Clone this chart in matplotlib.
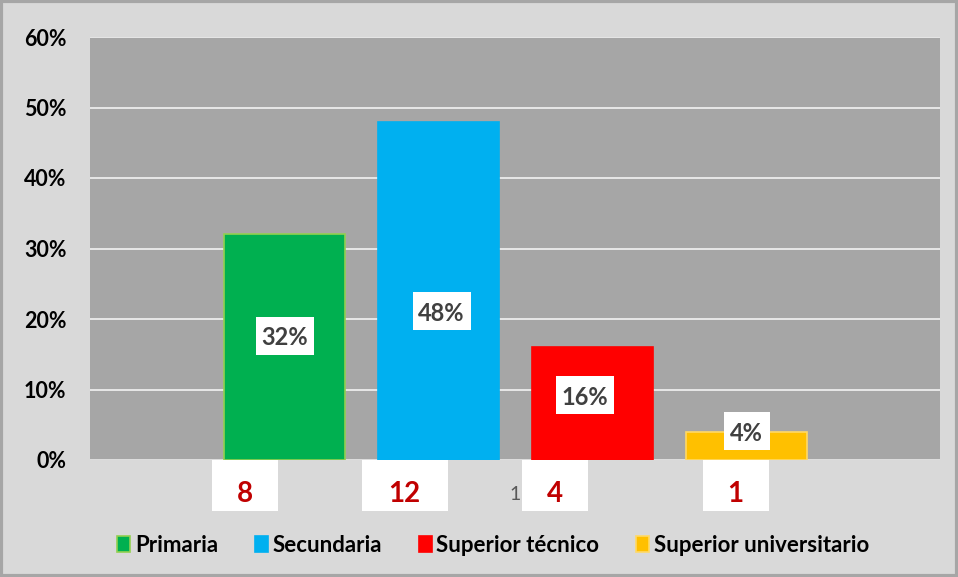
import matplotlib
matplotlib.use("Agg")
import matplotlib.pyplot as plt
from matplotlib.patches import Rectangle, Patch
from matplotlib.transforms import IdentityTransform

series = ["Primaria", "Secundaria", "Superior técnico", "Superior universitario"]
percents = [0.32, 0.48, 0.16, 0.04]
counts = [8, 12, 4, 1]
category = "1"
yticks = [0.0, 0.1, 0.2, 0.3, 0.4, 0.5, 0.6]

colors = ["#00b050", "#00b0f0", "#ff0000", "#ffc000"]
edges = ["#92d050", "#00b0f0", "#ff0000", "#ffd966"]
# label layout (label y in data units, pixel offsets / box sizes)
pct_y = [0.176, 0.211, 0.0915, 0.041]
pct_dx = [0.5, 3.5, -7.5, 0.5]
pct_w = [58, 58, 58, 46]
cnt_dx = [-39.5, -33.5, -37.5, -10.5]
cnt_w = [66, 86, 66, 66]

W, H = 958, 577
FONT = "Lato"
fig = plt.figure(figsize=(W / 100, H / 100), dpi=100)
fig.patch.set_facecolor("#d9d9d9")
fig.patches.append(Rectangle((0.0015, 0.0025), 0.997, 0.995, transform=fig.transFigure,
                             fill=False, edgecolor="#a6a6a6", linewidth=3))

ax = fig.add_axes([90 / W, (H - 460) / H, 850 / W, 423 / H])
ax.set_facecolor("#a6a6a6")
width = 121 / 154
offsets = [(i - 1.5) for i in range(len(series))]
for i, (s, v) in enumerate(zip(series, percents)):
    ax.bar(offsets[i], v, width=width, color=colors[i], edgecolor=edges[i],
           linewidth=1.2, label=s, zorder=3)

ax.set_xlim(-425 / 154, 425 / 154)
ax.set_ylim(0, 0.6)
ax.set_yticks(yticks)
ax.set_yticklabels([f"{int(round(t*100))}%" for t in yticks], fontsize=15.5,
                   fontweight="bold", family=FONT, color="black")
ax.yaxis.grid(True, color="#f2f2f2", linewidth=1.2, zorder=1)
ax.set_axisbelow(True)
ax.tick_params(axis="y", length=0, pad=17)
ax.set_xticks([0])
ax.set_xticklabels([category], fontsize=14, family=FONT, color="#595959")
ax.tick_params(axis="x", length=0, pad=19)
for sp in ax.spines.values():
    sp.set_visible(False)
ax.axhline(0, color="#bfbfbf", linewidth=1, zorder=2)

ident = IdentityTransform()
fig.canvas.draw()
for i, v in enumerate(percents):
    cx, cy = ax.transData.transform((offsets[i], pct_y[i]))
    cx += pct_dx[i]
    fig.patches.append(Rectangle((cx - pct_w[i] / 2, cy - 19), pct_w[i], 38,
                                 transform=ident, facecolor="white", edgecolor="none", zorder=5))
    fig.text(cx, cy, f"{int(round(v*100))}%", transform=ident, ha="center", va="center_baseline",
             fontsize=17, fontweight="bold", family=FONT, color="#404040", zorder=6)
for i, c in enumerate(counts):
    cx, cy = ax.transData.transform((offsets[i], 0))
    cx += cnt_dx[i]
    fig.patches.append(Rectangle((cx - cnt_w[i] / 2, cy - 51), cnt_w[i], 51,
                                 transform=ident, facecolor="white", edgecolor="none", zorder=5))
    fig.text(cx, cy - 31, str(c), transform=ident, ha="center", va="center_baseline",
             fontsize=20, fontweight="bold", family=FONT, color="#c00000", zorder=6)

handles = [Patch(facecolor=colors[i], edgecolor=edges[i], linewidth=1.2) for i in range(len(series))]
leg = fig.legend(handles, series, loc="center", bbox_to_anchor=(493 / W, 1 - 545 / H),
                 ncol=4, frameon=False, handlelength=0.6, handleheight=0.7,
                 handletextpad=0.2, columnspacing=1.65,
                 prop=dict(family=FONT, weight="bold", size=16))

fig.savefig("out.png", dpi=100, facecolor=fig.get_facecolor())
